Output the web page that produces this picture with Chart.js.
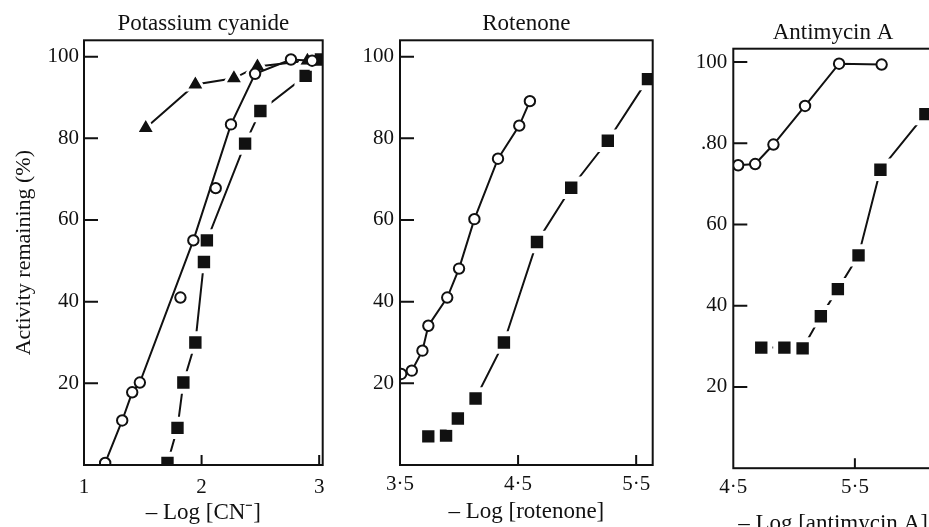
<!DOCTYPE html>
<html><head><meta charset="utf-8">
<script src="https://cdn.jsdelivr.net/npm/chart.js@4/dist/chart.umd.min.js"></script>
<style>
html,body{margin:0;padding:0;background:#fff;overflow:hidden;}
#wrap{position:relative;width:929px;height:527px;overflow:hidden;background:#fff;}
canvas{position:absolute;top:0;}
</style></head><body>
<div id="wrap">
<canvas id="c1" width="340" height="527" style="left:0px"></canvas>
<canvas id="c2" width="330" height="527" style="left:340px"></canvas>
<canvas id="c3" width="280" height="545" style="left:670px"></canvas>
</div>
<script>
// ---------- Panel 1: Potassium cyanide ----------
const cnCircleX = [1.18, 1.325, 1.41, 1.475, 1.82, 1.93, 2.12, 2.25, 2.455, 2.76, 2.94];
const cnCircleY = [0.5, 10.9, 17.8, 20.2, 41, 55, 67.8, 83.4, 95.8, 99.3, 99];
const cnCircleLineX = [1.18, 1.325, 1.41, 1.475, 1.93, 2.25, 2.455, 2.76, 2.94];
const cnCircleLineY = [0.5, 10.9, 17.8, 20.2, 55, 83.4, 95.8, 99.3, 99];
const cnSquareX = [1.71, 1.795, 1.845, 1.947, 2.02, 2.045, 2.37, 2.5, 2.885, 3.015];
const cnSquareY = [0.5, 9.1, 20.2, 30, 49.7, 55, 78.7, 86.7, 95.3, 99.3];
const cnTriangleX = [1.525, 1.947, 2.275, 2.475, 2.9];
const cnTriangleY = [82.5, 93.2, 94.7, 97.6, 99];
const cnXTicks = [1, 2, 3];
const cnXLabels = ['1', '2', '3'];

// ---------- Panel 2: Rotenone ----------
const rotCircleX = [3.51, 3.60, 3.69, 3.74, 3.90, 4.00, 4.13, 4.33, 4.51, 4.60];
const rotCircleY = [22.3, 23.1, 28, 34.1, 41, 48.1, 60.2, 75, 83.1, 89.1];
const rotSquareX = [3.74, 3.89, 3.99, 4.14, 4.38, 4.66, 4.95, 5.26, 5.60];
const rotSquareY = [7, 7.2, 11.4, 16.3, 30, 54.6, 67.9, 79.4, 94.5];
const rotXTicks = [3.5, 4.5, 5.5];
const rotXLabels = ['3·5', '4·5', '5·5'];

// ---------- Panel 3: Antimycin A ----------
const antCircleX = [4.54, 4.68, 4.83, 5.09, 5.37, 5.72];
const antCircleY = [74.6, 74.9, 79.7, 89.2, 99.6, 99.4];
const antSquareX = [4.73, 4.92, 5.07, 5.22, 5.36, 5.53, 5.71, 6.08];
const antSquareY = [29.7, 29.7, 29.5, 37.4, 44.1, 52.4, 73.5, 87.2];
const antXTicks = [4.5, 5.5];
const antXLabels = ['4·5', '5·5'];

// ---------- shared y ticks ----------
const yTicks = [20, 40, 60, 80, 100];
const yLabels = ['20', '40', '60', '80', '100'];
const yLabelsAnt = ['20', '40', '60', '.80', '100'];

const FONT = "'Liberation Serif', 'Times New Roman', serif";
const INK = '#111';

function pts(xs, ys) { return xs.map((x, i) => ({x: x, y: ys[i]})); }

function circles(xs, ys, line) {
  return {data: pts(xs, ys), showLine: line, borderColor: INK, borderWidth: 2,
    pointStyle: 'circle', pointRadius: 5.2, pointBackgroundColor: '#fff',
    pointBorderColor: INK, pointBorderWidth: 2};
}
function lineOnly(xs, ys) {
  return {data: pts(xs, ys), showLine: true, borderColor: INK, borderWidth: 2, pointRadius: 0};
}
function squares(xs, ys) {
  return {data: pts(xs, ys), showLine: true, borderColor: INK, borderWidth: 2,
    pointStyle: 'rect', pointRadius: 12.3, pointBackgroundColor: INK,
    pointBorderColor: '#fff', pointBorderWidth: 5};
}
function triangles(xs, ys) {
  return {data: pts(xs, ys), showLine: true, borderColor: INK, borderWidth: 2,
    pointStyle: 'triangle', pointRadius: 11, pointBackgroundColor: INK,
    pointBorderColor: '#fff', pointBorderWidth: 3};
}

const framePlugin = {
  id: 'frame',
  afterDraw(chart) {
    const {ctx, chartArea: a, scales: {x, y}} = chart;
    ctx.save();
    ctx.strokeStyle = INK; ctx.lineWidth = 2;
    ctx.strokeRect(a.left, a.top, a.right - a.left, a.bottom - a.top);
    ctx.beginPath();
    y.ticks.forEach(t => { const py = y.getPixelForValue(t.value); ctx.moveTo(a.left, py); ctx.lineTo(a.left + 14, py); });
    x.ticks.forEach(t => { const px = x.getPixelForValue(t.value);
      if (px > a.left + 3 && px < a.right - 3) { ctx.moveTo(px, a.bottom); ctx.lineTo(px, a.bottom - 10); } });
    ctx.stroke();
    ctx.restore();
  }
};

function makeChart(id, cfg) {
  return new Chart(document.getElementById(id), {
    type: 'scatter',
    data: {datasets: cfg.datasets},
    plugins: [framePlugin],
    options: {
      responsive: false, animation: false, events: [],
      layout: {padding: {left: 0, right: cfg.padRight, top: 0, bottom: 0}},
      plugins: {
        legend: {display: false}, tooltip: {enabled: false},
        title: {display: true, text: cfg.title, fullSize: false, color: INK,
          font: {family: FONT, size: 23, weight: 'normal'},
          padding: {top: cfg.titleTop, bottom: cfg.titleBottom}}
      },
      scales: {
        x: {type: 'linear', min: cfg.xMin, max: cfg.xMax,
          afterFit: s => { s.height = cfg.xHeight; },
          afterBuildTicks: s => { s.ticks = cfg.xTicks.map(v => ({value: v})); },
          grid: {display: false, drawTicks: false}, border: {display: false},
          ticks: {autoSkip: false, maxRotation: 0, padding: cfg.xTickPad, color: INK,
            font: {family: FONT, size: 21}, callback: (v, i) => cfg.xLabels[i]},
          title: {display: true, text: cfg.xTitle, color: INK,
            font: {family: FONT, size: 23}, padding: {top: 0, bottom: cfg.xTitlePad}}
        },
        y: {type: 'linear', min: 0, max: cfg.yMax,
          afterFit: s => { s.width = cfg.yWidth; },
          afterBuildTicks: s => { s.ticks = yTicks.map(v => ({value: v})); },
          grid: {display: false, drawTicks: false}, border: {display: false},
          ticks: {autoSkip: false, padding: cfg.yTickPad, color: INK,
            font: {family: FONT, size: 21}, callback: (v, i) => cfg.yLabels[i]},
          title: {display: !!cfg.yTitle, text: cfg.yTitle || '', color: INK,
            font: {family: FONT, size: 22}, padding: {top: 11, bottom: 0}}
        }
      }
    }
  });
}

makeChart('c1', {
  title: 'Potassium cyanide',
  datasets: [
    circles(cnCircleX, cnCircleY, false),
    lineOnly(cnCircleLineX, cnCircleLineY),
    squares(cnSquareX, cnSquareY),
    triangles(cnTriangleX, cnTriangleY)
  ],
  xMin: 1, xMax: 3.03, yMax: 104, xTicks: cnXTicks, xLabels: cnXLabels, yLabels: yLabels,
  xTitle: '– Log [CN⁻]', yTitle: 'Activity remaining (%)',
  padRight: 11, yWidth: 84, xHeight: 62, titleTop: 9.7, titleBottom: 3.0,
  xTickPad: 9.8, xTitlePad: 0.6, yTickPad: 5
});

makeChart('c2', {
  title: 'Rotenone',
  datasets: [
    circles(rotCircleX, rotCircleY, true),
    squares(rotSquareX, rotSquareY)
  ],
  xMin: 3.5, xMax: 5.64, yMax: 104, xTicks: rotXTicks, xLabels: rotXLabels, yLabels: yLabels,
  xTitle: '– Log [rotenone]',
  padRight: 12.3, yWidth: 60, xHeight: 62, titleTop: 9.7, titleBottom: 3.0,
  xTickPad: 6.4, xTitlePad: 1.6, yTickPad: 6
});

makeChart('c3', {
  title: 'Antimycin A',
  datasets: [
    circles(antCircleX, antCircleY, true),
    squares(antSquareX, antSquareY)
  ],
  xMin: 4.5, xMax: 6.14, yMax: 103.3, xTicks: antXTicks, xLabels: antXLabels, yLabels: yLabelsAnt,
  xTitle: '– Log [antimycin A]',
  padRight: 15.7, yWidth: 63.3, xHeight: 76.8, titleTop: 18.8, titleBottom: 2.3,
  xTickPad: 6.6, xTitlePad: 6.8, yTickPad: 6
});
</script>
</body></html>
